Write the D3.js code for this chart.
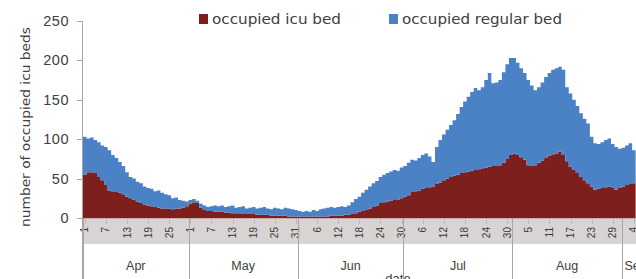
<!DOCTYPE html>
<html>
<head>
<meta charset="UTF-8" />
<script src="https://d3js.org/d3.v7.min.js"></script>
<style>
  body { margin: 0; background: #fff; }
  svg { display: block; font-family: "Liberation Sans", "DejaVu Sans", sans-serif; }
</style>
</head>
<body>
<div id="chart"></div>
<script>
// daily values, 1 Apr .. 4 Sep
var startDate = new Date(2020, 3, 1);

var icuBeds = [
  55, 58, 58, 57, 52, 48, 42, 35, 34, 33, 32, 30, 27, 25, 23, 21, 19, 17, 16, 15, 14, 13, 12, 12, 12, 11, 12, 12, 13, 15,
  18, 20, 19, 13, 10, 9, 9, 8, 8, 8, 7, 7, 6, 6, 6, 5, 5, 5, 5, 4, 4, 4, 4, 3, 3, 3, 3, 3, 2, 2, 2,
  2, 2, 2, 2, 2, 2, 2, 2, 2, 3, 3, 3, 3, 4, 4, 5, 6, 8, 9, 10, 12, 14, 16, 19, 20, 21, 22, 23, 23, 25,
  27, 29, 33, 34, 35, 37, 38, 39, 40, 43, 45, 48, 50, 52, 54, 55, 57, 58, 59, 60, 61, 62, 63, 64, 65, 66, 66, 67, 70, 75, 80,
  82, 80, 77, 74, 67, 66, 67, 70, 73, 76, 79, 81, 82, 84, 80, 72, 65, 61, 57, 52, 48, 44, 40, 36, 37, 38, 39, 40, 38, 36, 38,
  40, 42, 43, 44
];

var regularBeds = [
  48, 43, 44, 42, 44, 44, 48, 51, 46, 43, 39, 36, 31, 27, 27, 25, 25, 23, 22, 22, 20, 22, 20, 18, 17, 14, 14, 11, 9, 6,
  5, 4, 3, 5, 6, 5, 6, 8, 7, 8, 7, 8, 10, 7, 8, 10, 7, 8, 9, 8, 9, 10, 8, 8, 10, 9, 8, 10, 10, 9, 8,
  7, 6, 7, 6, 8, 7, 9, 10, 11, 11, 10, 11, 12, 10, 12, 15, 18, 19, 23, 26, 28, 30, 31, 33, 35, 36, 37, 38, 37, 39,
  39, 41, 41, 39, 41, 43, 44, 39, 31, 47, 54, 58, 62, 66, 70, 77, 84, 90, 95, 100, 104, 100, 103, 111, 119, 105, 106, 108, 115, 120, 123,
  121, 117, 113, 110, 108, 102, 95, 96, 99, 103, 105, 107, 108, 108, 108, 94, 93, 89, 85, 81, 78, 76, 63, 59, 57, 58, 60, 61, 56, 54, 50,
  49, 50, 52, 42
];

var seriesNames = ["occupied icu bed", "occupied regular bed"];
var monthLabels = ["Apr", "May", "Jun", "Jul", "Aug", "Sep"];
var dayTickLabels = ["1", "7", "13", "19", "25", "1", "7", "13", "19", "25", "31", "6", "12", "18", "24", "30",
  "6", "12", "18", "24", "30", "5", "11", "17", "23", "29", "4"];
var yTicks = [0, 50, 100, 150, 200, 250];

var width = 636, height = 279;
var colors = ["#7d1f1d", "#4b82c6"];

var svg = d3.select("#chart").append("svg")
  .attr("width", width)
  .attr("height", height);

var nDays = icuBeds.length;
var x = d3.scaleLinear().domain([0, nDays]).range([83, 83 + nDays * 3.52]);
var y = d3.scaleLinear().domain([0, 250]).range([218, 21]);

// table for the stack; last row repeated so the final step closes
var rows = icuBeds.map(function (v, i) {
  return { day: i, icu: v, regular: regularBeds[i] };
});
rows.push({ day: nDays, icu: icuBeds[nDays - 1], regular: regularBeds[nDays - 1] });

var stack = d3.stack().keys(["icu", "regular"]);
var layers = stack(rows);

var area = d3.area()
  .curve(d3.curveStepAfter)
  .x(function (d) { return x(d.data.day); })
  .y0(function (d) { return y(d[0]); })
  .y1(function (d) { return y(d[1]); });

svg.append("g").selectAll("path")
  .data(layers)
  .enter().append("path")
  .attr("d", area)
  .attr("fill", function (d, i) { return colors[i]; });

// date band under the plot
svg.append("rect")
  .attr("x", x(0))
  .attr("y", 218)
  .attr("width", width - x(0))
  .attr("height", 26)
  .attr("fill", "#d8d4d4");

svg.append("line")
  .attr("x1", x(0)).attr("x2", width)
  .attr("y1", 218.5).attr("y2", 218.5)
  .attr("stroke", "#c9a9a9");

// day ticks
var dayTicks = dayTickLabels.map(function (t, i) { return i * 6; });
svg.append("g").selectAll("line")
  .data(dayTicks)
  .enter().append("line")
  .attr("x1", function (d) { return Math.round(x(d + 0.5)) + 0.5; })
  .attr("x2", function (d) { return Math.round(x(d + 0.5)) + 0.5; })
  .attr("y1", 218).attr("y2", 224)
  .attr("stroke", "#b8b8b8");

svg.append("g").selectAll("text")
  .data(dayTicks)
  .enter().append("text")
  .attr("transform", function (d) { return "translate(" + (x(d + 0.5) + 3.5) + ",227) rotate(-90)"; })
  .attr("text-anchor", "end")
  .attr("font-size", 10)
  .attr("fill", "#3a3a3a")
  .text(function (d, i) { return dayTickLabels[i]; });

// month dividers and labels
var monthStarts = d3.timeMonth.range(startDate, d3.timeDay.offset(startDate, nDays + 1)).map(function (m) {
  return d3.timeDay.count(startDate, m);
});
svg.append("g").selectAll("line")
  .data(monthStarts)
  .enter().append("line")
  .attr("x1", function (d) { return Math.round(x(d)) + 0.5; })
  .attr("x2", function (d) { return Math.round(x(d)) + 0.5; })
  .attr("y1", 218).attr("y2", height)
  .attr("stroke", "#a6a6a6");

svg.append("g").selectAll("text")
  .data(monthLabels)
  .enter().append("text")
  .attr("x", function (d, i) {
    var a = monthStarts[i];
    var b = i + 1 < monthStarts.length ? monthStarts[i + 1] : nDays + 4;
    return (x(a) + x(b)) / 2;
  })
  .attr("y", 270)
  .attr("text-anchor", "middle")
  .attr("font-size", 12.5)
  .attr("fill", "#404040")
  .text(function (d) { return d; });

svg.append("text")
  .attr("x", 398)
  .attr("y", 283)
  .attr("text-anchor", "middle")
  .attr("font-size", 13)
  .attr("fill", "#404040")
  .text("date");

// y axis
svg.append("line")
  .attr("x1", 82.5).attr("x2", 82.5)
  .attr("y1", y(250)).attr("y2", height)
  .attr("stroke", "#a6a6a6");

svg.append("g").selectAll("line")
  .data(yTicks)
  .enter().append("line")
  .attr("x1", 77).attr("x2", 82)
  .attr("y1", function (d) { return Math.round(y(d)) + 0.5; })
  .attr("y2", function (d) { return Math.round(y(d)) + 0.5; })
  .attr("stroke", "#a6a6a6");

svg.append("g").selectAll("text")
  .data(yTicks)
  .enter().append("text")
  .attr("x", 69)
  .attr("y", function (d) { return y(d) + 5; })
  .attr("text-anchor", "end")
  .attr("font-size", 14.5)
  .attr("letter-spacing", 0.5)
  .attr("fill", "#404040")
  .text(function (d) { return d; });

svg.append("text")
  .attr("transform", "translate(30,127) rotate(-90)")
  .attr("text-anchor", "middle")
  .attr("font-family", "DejaVu Sans, sans-serif")
  .attr("font-size", 12.5)
  .attr("textLength", 200)
  .attr("lengthAdjust", "spacingAndGlyphs")
  .attr("fill", "#404040")
  .text("number of occupied icu beds");

// legend
var legend = svg.append("g").selectAll("g")
  .data(seriesNames)
  .enter().append("g")
  .attr("transform", function (d, i) { return "translate(" + [199, 389][i] + ",0)"; });

legend.append("rect")
  .attr("x", 0).attr("y", 14)
  .attr("width", 9).attr("height", 10)
  .attr("fill", function (d, i) { return colors[i]; });

legend.append("text")
  .attr("x", 13)
  .attr("y", 24)
  .attr("font-family", "DejaVu Sans, sans-serif")
  .attr("font-size", 13.5)
  .attr("textLength", function (d, i) { return [129, 160][i]; })
  .attr("lengthAdjust", "spacingAndGlyphs")
  .attr("fill", "#404040")
  .text(function (d) { return d; });
</script>
</body>
</html>
